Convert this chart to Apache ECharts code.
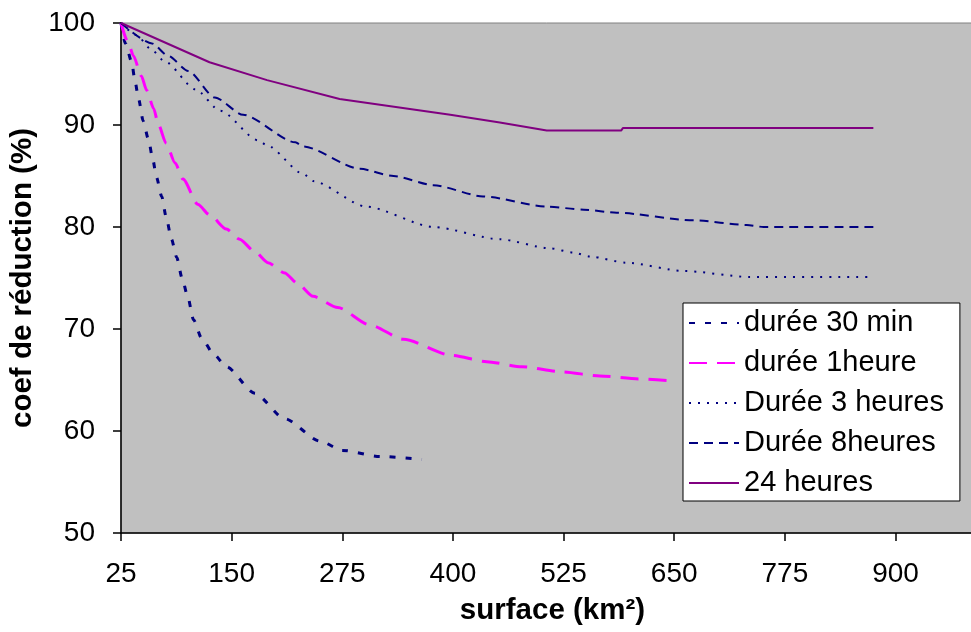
<!DOCTYPE html>
<html>
<head>
<meta charset="utf-8">
<script src="https://cdn.jsdelivr.net/npm/echarts@6/dist/echarts.min.js"></script>
<style>
  html, body { margin: 0; padding: 0; background: #fff; }
  #chart { width: 971px; height: 632px; }
</style>
</head>
<body>
<div id="chart"></div>
<script>
// ---- data ----
const seriesNames = ['durée 30 min', 'durée 1heure', 'Durée 3 heures', 'Durée 8heures', '24 heures'];

const x30 = [25, 30, 37, 41, 45, 50, 56, 61, 65, 71, 76, 82, 88, 94, 100, 107, 116, 130, 144, 176, 210, 250, 275, 318, 365];
const y30 = [100, 98, 96.2, 94.2, 92.5, 90.4, 88.6, 86.6, 84.9, 83, 81, 78.8, 77, 75, 73.3, 70.9, 69.1, 67.5, 66.3, 63.7, 61.2, 59, 58.1, 57.5, 57.2];

const x1h = [25, 33, 39, 48, 54, 62, 67, 76, 86, 95, 112, 125, 144, 159, 176, 191, 210, 224, 242, 270, 306, 344, 399, 438, 478, 523, 566, 610, 650];
const y1h = [100, 98.1, 96.8, 94.8, 93.4, 91.6, 90.1, 88.2, 86.3, 84.7, 82.2, 81.2, 79.8, 78.8, 77.6, 76.5, 75.5, 74.5, 73.2, 72.1, 70.4, 69.0, 67.4, 66.8, 66.3, 65.8, 65.4, 65.1, 64.9];

const x3h = [25, 43, 58, 75, 109, 137, 180, 190, 231, 242, 302, 378, 453, 510, 536, 555, 596, 660, 735, 875];
const y3h = [100, 98.8, 97.5, 96.2, 93.5, 91.4, 88.5, 88.0, 85.2, 84.5, 82.0, 80.0, 78.8, 77.9, 77.5, 77.1, 76.5, 75.7, 75.1, 75.1];

const x8h = [25, 60, 78, 101, 131, 163, 222, 231, 295, 333, 378, 434, 506, 548, 585, 672, 732, 751, 875];
const y8h = [100, 98, 96.8, 95.3, 92.7, 91.0, 88.3, 87.9, 85.7, 85.0, 84.1, 83.0, 82.0, 81.7, 81.4, 80.65, 80.2, 80.0, 80.0];

const x24 = [25, 125, 190, 272, 397, 453, 506, 590, 592, 875];
const y24 = [100, 96.15, 94.4, 92.55, 91.0, 90.25, 89.45, 89.45, 89.7, 89.7];

const xTicks = [25, 150, 275, 400, 525, 650, 775, 900];
const yTicks = [50, 60, 70, 80, 90, 100];

// ---- build ----
function zip(xs, ys) { return xs.map((x, i) => [x, ys[i]]); }

const FONT = "'Liberation Sans', Arial, sans-serif";
const chart = echarts.init(document.getElementById('chart'), null, { renderer: 'canvas' });

const option = {
  animation: false,
  backgroundColor: '#ffffff',
  grid: {
    left: 121, right: -13, top: 23, bottom: 99,
    show: true, backgroundColor: '#c0c0c0', borderColor: '#808080', borderWidth: 1,
    containLabel: false, outerBoundsMode: 'none'
  },
  legend: {
    orient: 'vertical',
    left: 683, top: 303,
    padding: [5, 16, 3, 5],
    itemWidth: 50, itemHeight: 14, itemGap: 10, itemTextGap: 11,
    backgroundColor: '#ffffff', borderColor: '#000000', borderWidth: 1, borderRadius: 0,
    itemStyle: { opacity: 0, borderWidth: 0 },
    textStyle: { fontFamily: FONT, fontSize: 29, color: '#000', lineHeight: 30 },
    data: seriesNames
  },
  xAxis: {
    type: 'value', min: xTicks[0], max: 1000, interval: 125,
    name: 'surface (km²)', nameLocation: 'middle', nameGap: 63,
    nameTextStyle: { fontFamily: FONT, fontSize: 29.5, fontWeight: 'bold', color: '#000' },
    axisLine: { show: true, onZero: false, lineStyle: { color: '#000', width: 1.5 } },
    axisTick: { show: true, length: 8, lineStyle: { color: '#000', width: 1.5 } },
    axisLabel: { fontFamily: FONT, fontSize: 28, color: '#000', margin: 27, showMaxLabel: false,
      formatter: v => (xTicks.indexOf(v) >= 0 ? String(v) : '') },
    splitLine: { show: false }
  },
  yAxis: {
    type: 'value', min: yTicks[0], max: yTicks[yTicks.length - 1], interval: 10,
    name: 'coef de réduction (%)', nameLocation: 'middle', nameGap: 73, nameRotate: 90,
    nameTextStyle: { fontFamily: FONT, fontSize: 29.5, fontWeight: 'bold', color: '#000' },
    axisLine: { show: true, onZero: false, lineStyle: { color: '#000', width: 1.5 } },
    axisTick: { show: true, length: 8, lineStyle: { color: '#000', width: 1.5 } },
    axisLabel: { fontFamily: FONT, fontSize: 28, color: '#000', margin: 26 },
    splitLine: { show: false }
  },
  series: [
    { name: seriesNames[0], type: 'line', data: zip(x30, y30), symbol: 'none', smooth: 0.25, smoothMonotone: 'x',
      lineStyle: { color: '#000080', width: 3, type: [6, 10] }, itemStyle: { color: '#000080' } },
    { name: seriesNames[1], type: 'line', data: zip(x1h, y1h), symbol: 'none', smooth: 0.25, smoothMonotone: 'x',
      lineStyle: { color: '#ff00ff', width: 3, type: [18, 10] }, itemStyle: { color: '#ff00ff' } },
    { name: seriesNames[2], type: 'line', data: zip(x3h, y3h), symbol: 'none', smooth: 0.25, smoothMonotone: 'x',
      lineStyle: { color: '#000080', width: 2, type: [2, 7] }, itemStyle: { color: '#000080' } },
    { name: seriesNames[3], type: 'line', data: zip(x8h, y8h), symbol: 'none', smooth: 0.25, smoothMonotone: 'x',
      lineStyle: { color: '#000080', width: 2, type: [9, 6] }, itemStyle: { color: '#000080' } },
    { name: seriesNames[4], type: 'line', data: zip(x24, y24), symbol: 'none', smooth: false,
      lineStyle: { color: '#800080', width: 2, type: 'solid' }, itemStyle: { color: '#800080' } }
  ]
};
chart.setOption(option);
</script>
</body>
</html>
